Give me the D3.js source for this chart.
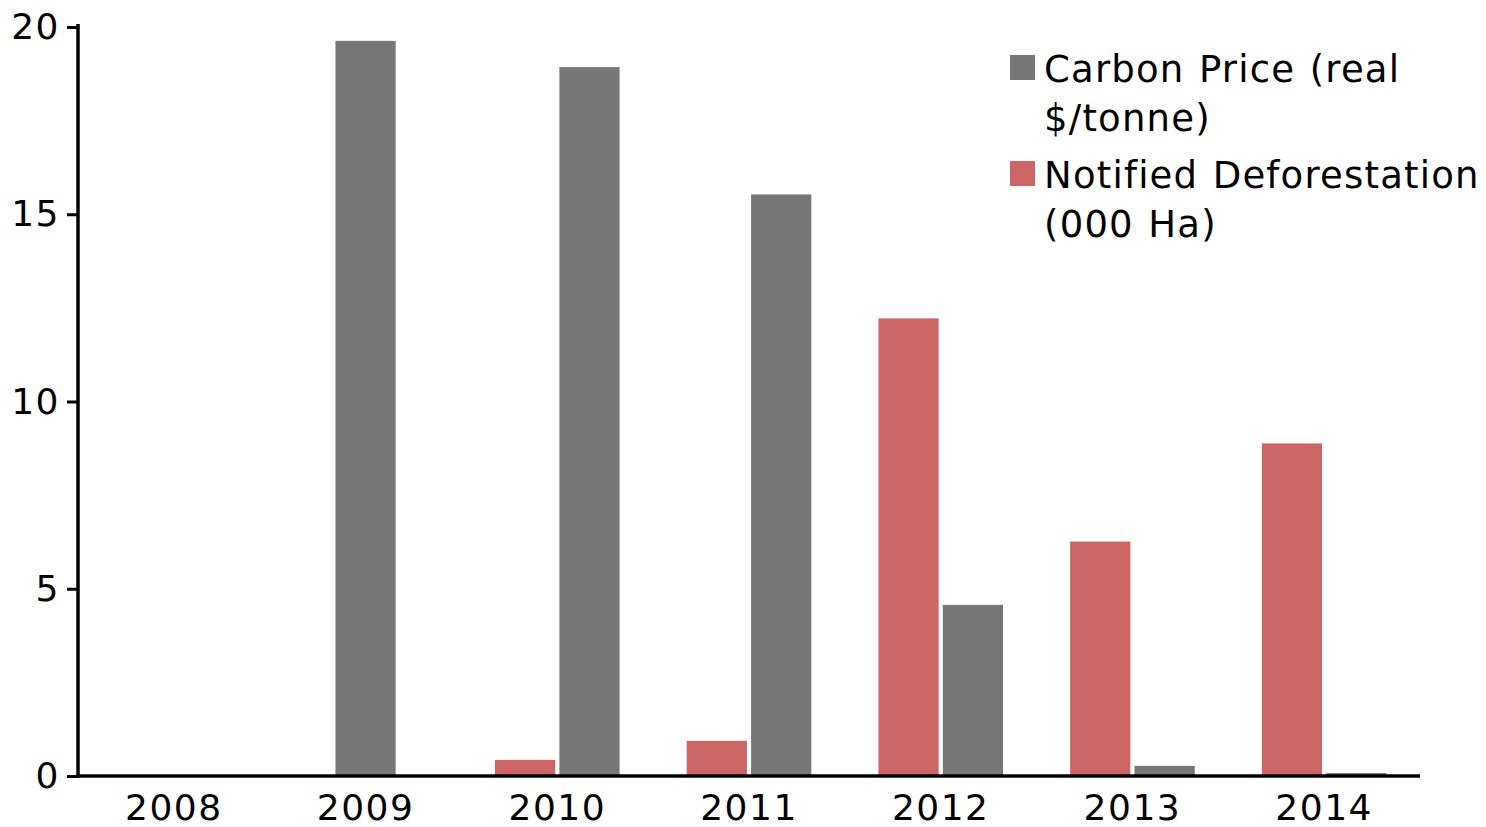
<!DOCTYPE html>
<html>
<head>
<meta charset="utf-8">
<script src="https://cdn.jsdelivr.net/npm/d3@7"></script>
<style>
  html, body { margin: 0; padding: 0; background: #ffffff; }
  text { font-family: "DejaVu Sans", Verdana, sans-serif; }
</style>
</head>
<body>
<svg id="chart" width="1486" height="827"></svg>
<script>
const years = ["2008", "2009", "2010", "2011", "2012", "2013", "2014"];
const deforestation = [null, null, 0.43, 0.94, 12.22, 6.26, 8.88];
const carbonPrice = [null, 19.63, 18.93, 15.53, 4.57, 0.27, 0.08];
const yTicks = [0, 5, 10, 15, 20];
const seriesKeys = ["deforestation", "carbon"];
const seriesLabels = {
  carbon: ["Carbon Price (real", "$/tonne)"],
  deforestation: ["Notified Deforestation", "(000 Ha)"]
};
const colors = { carbon: "#777777", deforestation: "#cc6666" };

const svg = d3.select("#chart");
const plotLeft = 78, plotRight = 1420, plotTop = 27, plotBottom = 776;

const x0 = d3.scaleBand().domain(years).range([plotLeft, plotRight])
  .paddingInner(0.35).paddingOuter(0.175);
const x1 = d3.scaleBand().domain(seriesKeys).range([0, x0.bandwidth()])
  .paddingInner(0.065);
const y = d3.scaleLinear().domain([0, 20]).range([plotBottom, plotTop]);

const data = years.map((yr, i) => ({
  year: yr,
  deforestation: deforestation[i],
  carbon: carbonPrice[i]
}));

// bars (a lone bar in a category is centred in its band)
const groups = svg.append("g").selectAll("g").data(data).join("g")
  .attr("transform", d => `translate(${x0(d.year)},0)`);
groups.selectAll("rect")
  .data(d => {
    const present = seriesKeys.filter(k => d[k] != null);
    return present.map(k => ({ key: k, value: d[k], lone: present.length === 1 }));
  })
  .join("rect")
  .attr("x", d => d.lone ? (x0.bandwidth() - x1.bandwidth()) / 2 : x1(d.key))
  .attr("width", x1.bandwidth())
  .attr("y", d => y(d.value))
  .attr("height", d => plotBottom - y(d.value))
  .attr("fill", d => colors[d.key]);

// y axis
const yAxis = svg.append("g").attr("transform", `translate(${plotLeft},0)`)
  .call(d3.axisLeft(y).tickValues(yTicks).tickSize(11).tickPadding(7).tickSizeOuter(0));
yAxis.select(".domain").attr("stroke", "#000").attr("stroke-width", 3.5)
  .attr("d", `M0,${plotBottom + 1.5}V${plotTop - 3}`);
yAxis.selectAll(".tick line").attr("stroke", "#000").attr("stroke-width", 3);
yAxis.selectAll(".tick text").attr("font-size", 36).attr("fill", "#000")
  .attr("font-family", "DejaVu Sans, Verdana, sans-serif").attr("letter-spacing", 1.5);

// x axis
const xAxis = svg.append("g").attr("transform", `translate(0,${plotBottom})`)
  .call(d3.axisBottom(x0).tickSize(0).tickPadding(18).tickSizeOuter(0));
xAxis.select(".domain").attr("stroke", "#000").attr("stroke-width", 3.5)
  .attr("d", `M${plotLeft - 1.5},0H${plotRight}`);
xAxis.selectAll(".tick text").attr("font-size", 36).attr("fill", "#000")
  .attr("font-family", "DejaVu Sans, Verdana, sans-serif").attr("letter-spacing", 1.5);

// legend
const legendOrder = ["carbon", "deforestation"];
const legend = svg.append("g").attr("transform", "translate(1010,55)");
const items = legend.selectAll("g").data(legendOrder).join("g")
  .attr("transform", (d, i) => `translate(0,${i * 106})`);
items.append("rect").attr("width", 25).attr("height", 25)
  .attr("fill", d => colors[d]);
items.each(function(d) {
  const t = d3.select(this).append("text")
    .attr("x", 34).attr("y", 27)
    .attr("font-size", 37).attr("letter-spacing", 1.2).attr("word-spacing", 1.5)
    .attr("fill", "#000");
  seriesLabels[d].forEach((line, j) => {
    t.append("tspan").attr("x", 34).attr("dy", j === 0 ? 0 : 49).text(line);
  });
});
</script>
</body>
</html>
